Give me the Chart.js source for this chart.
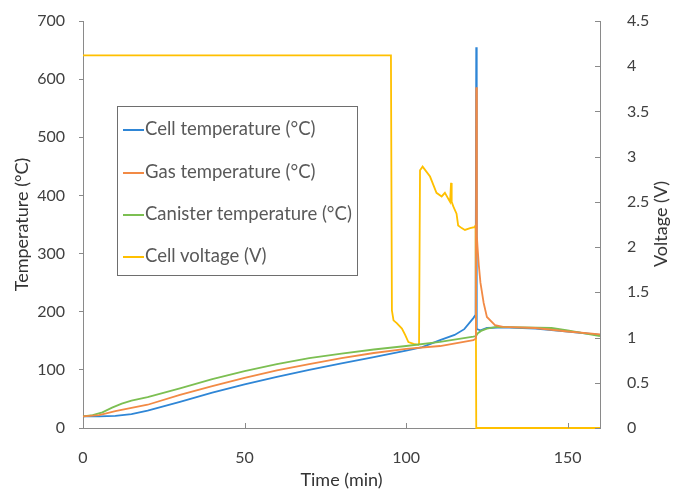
<!DOCTYPE html>
<html>
<head>
<meta charset="utf-8">
<script src="https://cdn.jsdelivr.net/npm/chart.js@4"></script>
<style>
  html, body { margin: 0; padding: 0; background: #fff; }
  #wrap { position: relative; width: 673px; height: 492px; font-family: Lato, sans-serif; }
  #legendBox {
    position: absolute; left: 117px; top: 106px; width: 241px; height: 170px;
    border: 1px solid #6e6e6e; box-sizing: border-box;
  }
  .item { position: absolute; left: 5px; height: 22px; line-height: 22px; font-size: 18.5px; color: #595959; white-space: nowrap; }
  .item span.sw { display: inline-block; width: 21px; height: 2px; vertical-align: middle; margin-right: 1px; }
  #voltTitle {
    position: absolute; left: 660px; top: 224px; font-size: 18px; color: #333;
    transform: translate(-50%, -50%) rotate(-90deg); white-space: nowrap;
  }
</style>
</head>
<body>
<div id="wrap">
  <canvas id="lineChart" width="673" height="492"></canvas>
  <div id="legendBox"></div>
  <div id="voltTitle">Voltage (V)</div>
</div>
<script>
// Cell temperature (°C)
const cellTime = [0, 5, 10, 15, 20, 30, 40, 50, 60, 70, 80, 90, 100, 105, 110.5, 115, 118, 120.8, 121.5, 121.7, 121.85, 123, 125, 130, 140, 150, 160];
const cellTemp = [20, 20, 21, 24, 30, 45, 61, 75, 88, 100, 111, 122, 133, 139, 151, 160, 170, 189, 195, 655, 170, 168, 172, 173, 171, 166, 160];

// Gas temperature (°C)
const gasTime = [0, 5, 10, 20, 30, 40, 50, 60, 70, 80, 90, 100, 110.5, 120.8, 121.6, 121.7, 121.9, 122.1, 122.5, 123, 124, 125, 127.5, 130, 140, 150, 160];
const gasTemp = [20, 22, 29, 40, 57, 72, 86, 99, 110, 120, 129, 136, 141, 151, 154, 586, 330, 311, 280, 250, 215, 191, 177, 174, 172, 166, 161];

// Canister temperature (°C)
const canisterTime = [0, 3, 6, 9, 12, 15, 20, 30, 40, 50, 60, 70, 80, 90, 100, 110.5, 120.8, 121.6, 122.2, 123.2, 125, 128, 145, 150, 160];
const canisterTemp = [20, 22, 27, 35, 42, 47, 53, 68, 84, 98, 110, 120, 128, 135, 141, 148, 157, 158, 163, 167, 171, 174, 172, 168, 158];

// Cell voltage (V)
const voltageTime = [0, 95.3, 95.6, 96.1, 97.1, 98.7, 99.7, 100.7, 102.3, 103.8, 104.0, 104.3, 105.1, 107.4, 109.4, 111, 112, 113.6, 113.9, 114.1, 114.6, 115.6, 116.1, 117.2, 118.2, 119.8, 121.1, 121.5, 121.7, 130, 140, 150, 160];
const cellVoltage = [4.12, 4.12, 1.30, 1.19, 1.16, 1.10, 1.03, 0.95, 0.93, 0.92, 0.93, 2.85, 2.89, 2.78, 2.6, 2.56, 2.6, 2.5, 2.71, 2.5, 2.45, 2.37, 2.24, 2.21, 2.19, 2.21, 2.22, 2.24, 0, 0, 0, 0, 0];

const xTicks = [0, 50, 100, 150];
const tempTicks = [0, 100, 200, 300, 400, 500, 600, 700];
const voltTicks = [0, 0.5, 1, 1.5, 2, 2.5, 3, 3.5, 4, 4.5];

const seriesNames = ['Cell temperature (°C)', 'Gas temperature (°C)', 'Canister temperature (°C)', 'Cell voltage (V)'];
const seriesColors = ['#2f86d6', '#f28a45', '#7cbf52', '#ffc000'];

const toPoints = (xs, ys) => xs.map((x, i) => ({ x: x, y: ys[i] }));

const axisGray = '#8a8a8a';
const tickFont = { family: 'Lato', size: 16 };
const titleFont = { family: 'Lato', size: 18 };

// fixed box sizes so the plot area lands at 83..600 x 21..428
const fixBox = (w, h) => s => {
    if (w) s.width = w;
    if (h) s.height = h;
    s.paddingTop = 0;
    s.paddingBottom = 0;
    s.paddingLeft = 0;
    s.paddingRight = 0;
};

// small tick marks pointing into the plot on the time axis and the voltage axis
const innerTicks = {
    id: 'innerTicks',
    afterDraw(chart) {
        const { ctx, chartArea } = chart;
        const x = chart.scales.x, y2 = chart.scales.y2;
        ctx.save();
        ctx.strokeStyle = axisGray;
        ctx.lineWidth = 1;
        ctx.beginPath();
        x.ticks.forEach(t => {
            const px = Math.round(x.getPixelForValue(t.value)) + 0.5;
            ctx.moveTo(px, chartArea.bottom);
            ctx.lineTo(px, chartArea.bottom - 5);
        });
        y2.ticks.forEach(t => {
            const py = Math.round(y2.getPixelForValue(t.value)) + 0.5;
            ctx.moveTo(chartArea.right, py);
            ctx.lineTo(chartArea.right - 5, py);
        });
        ctx.stroke();
        ctx.restore();
    }
};

const ds = (i, pts, axis, order) => ({
    label: seriesNames[i],
    data: pts,
    borderColor: seriesColors[i],
    backgroundColor: seriesColors[i],
    borderWidth: 1.8,
    pointRadius: 0,
    tension: 0,
    fill: false,
    yAxisID: axis,
    order: order,
    clip: 4
});

const ctxLine = document.getElementById('lineChart').getContext('2d');
const lineChart = new Chart(ctxLine, {
    type: 'line',
    data: {
        datasets: [
            ds(0, toPoints(cellTime, cellTemp), 'y', 3),
            ds(1, toPoints(gasTime, gasTemp), 'y', 0),
            ds(2, toPoints(canisterTime, canisterTemp), 'y', 1),
            ds(3, toPoints(voltageTime, cellVoltage), 'y2', 2)
        ]
    },
    options: {
        responsive: false,
        animation: false,
        layout: { padding: { top: 21, left: 0, right: 0, bottom: 0 } },
        plugins: {
            legend: { display: false },
            tooltip: { enabled: false }
        },
        scales: {
            x: {
                type: 'linear',
                min: 0,
                max: 160,
                afterBuildTicks: s => { s.ticks = xTicks.map(v => ({ value: v })); },
                afterFit: fixBox(0, 64),
                grid: { display: false },
                border: { display: true, color: axisGray, width: 1 },
                ticks: { font: tickFont, color: '#404040', padding: 12, maxRotation: 0 },
                title: { display: true, text: 'Time (min)', font: titleFont, color: '#333', padding: { top: 0, bottom: 1 } }
            },
            y: {
                position: 'left',
                min: 0,
                max: 700,
                afterBuildTicks: s => { s.ticks = tempTicks.map(v => ({ value: v })); },
                afterFit: fixBox(83, 0),
                grid: { display: true, drawOnChartArea: false, drawTicks: true, tickLength: 4, color: axisGray },
                border: { display: true, color: axisGray, width: 1 },
                ticks: { font: tickFont, color: '#404040', padding: 14 },
                title: { display: true, text: 'Temperature (°C)', font: titleFont, color: '#333', padding: { top: 11, bottom: 0 } }
            },
            y2: {
                position: 'right',
                min: 0,
                max: 4.5,
                afterBuildTicks: s => { s.ticks = voltTicks.map(v => ({ value: v })); },
                afterFit: fixBox(73, 0),
                grid: { display: false },
                border: { display: true, color: axisGray, width: 1 },
                ticks: { font: tickFont, color: '#404040', padding: 19, callback: v => String(v) }
            }
        }
    },
    plugins: [innerTicks]
});

// legend box drawn inside the plot area
const legendBox = document.getElementById('legendBox');
const legendRows = [21, 64, 106, 148];
seriesNames.forEach((name, i) => {
    const item = document.createElement('div');
    item.className = 'item';
    item.style.top = (legendRows[i] - 11) + 'px';
    const sw = document.createElement('span');
    sw.className = 'sw';
    sw.style.background = seriesColors[i];
    item.appendChild(sw);
    item.appendChild(document.createTextNode(name));
    legendBox.appendChild(item);
});
</script>
</body>
</html>
